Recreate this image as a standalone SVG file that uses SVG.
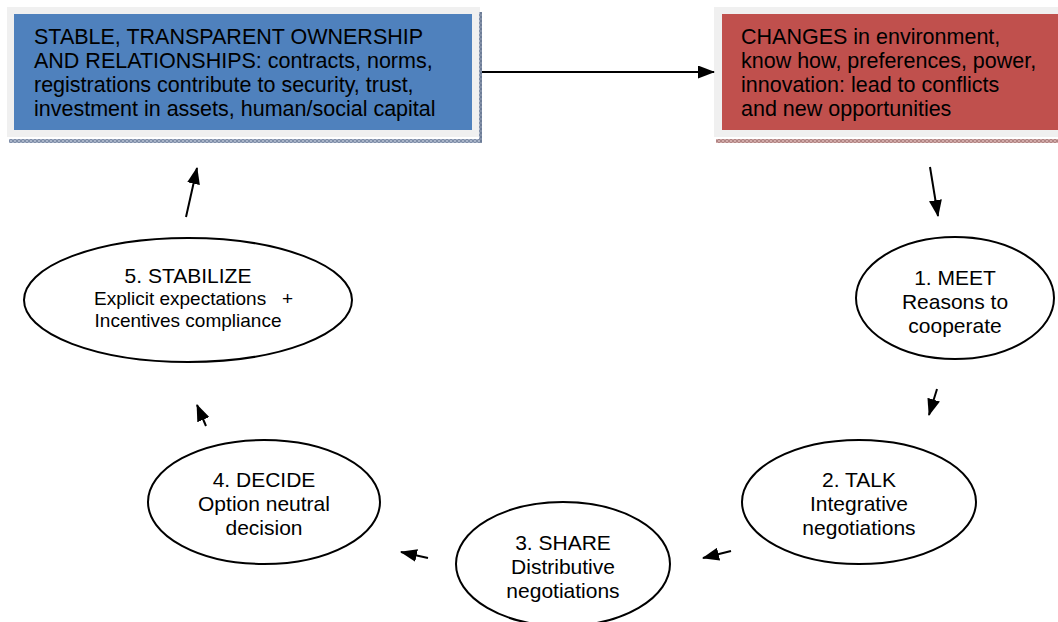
<svg xmlns="http://www.w3.org/2000/svg" width="1058" height="622" viewBox="0 0 1058 622">
<style>
.t{font-family:"Liberation Sans",Arial,sans-serif;font-size:21px;fill:#000}
.b{font-size:21.5px}
.s{font-size:19px}
.e{fill:#fff;stroke:#000;stroke-width:2}
.c{stroke:#000;stroke-width:2;fill:none}
</style>
<defs>
<pattern id="hb" width="4" height="4" patternUnits="userSpaceOnUse">
<rect width="4" height="4" fill="#a9b4c8"/><rect width="2" height="2" fill="#7f8ea8"/><rect x="2" y="2" width="2" height="2" fill="#7f8ea8"/>
</pattern>
<pattern id="hr" width="4" height="4" patternUnits="userSpaceOnUse">
<rect width="4" height="4" fill="#d2aaa9"/><rect width="2" height="2" fill="#b08584"/><rect x="2" y="2" width="2" height="2" fill="#b08584"/>
</pattern>
<marker id="ahs" markerWidth="17" markerHeight="13" refX="16" refY="6.5" orient="auto" markerUnits="userSpaceOnUse" viewBox="0 0 17 13">
<path d="M0,0 L17,6.5 L0,13 z" fill="#000"/>
</marker>
</defs>
<rect width="1058" height="622" fill="#fff"/>
<g id="box-stable">
<rect x="7" y="7" width="473" height="130" fill="#f0f0f0"/>
<rect x="14" y="14" width="458" height="116" fill="#4f81bd"/>
<rect x="9" y="139" width="472" height="4" fill="url(#hb)"/>
<rect x="479" y="12" width="3" height="131" fill="url(#hb)"/>
<line x1="481" y1="12" x2="481" y2="143" stroke="#5a6a85" stroke-width="1"/>
<text class="t b" x="34" y="44">STABLE, TRANSPARENT OWNERSHIP</text>
<text class="t b" x="34" y="68">AND RELATIONSHIPS: contracts, norms,</text>
<text class="t b" x="34" y="92">registrations contribute to security, trust,</text>
<text class="t b" x="34" y="116">investment in assets, human/social capital</text>
</g>
<g id="box-changes">
<rect x="714" y="7" width="344" height="130" fill="#f0f0f0"/>
<rect x="722" y="14" width="336" height="116" fill="#c0504d"/>
<rect x="716" y="139" width="342" height="4" fill="url(#hr)"/>
<text class="t b" x="741" y="44">CHANGES in environment,</text>
<text class="t b" x="741" y="68">know how, preferences, power,</text>
<text class="t b" x="741" y="92">innovation: lead to conflicts</text>
<text class="t b" x="741" y="116">and new opportunities</text>
</g>
<g id="node-meet">
<ellipse class="e" cx="955" cy="298" rx="99" ry="61"/>
<text class="t" text-anchor="middle" x="955" y="285">1. MEET</text>
<text class="t" text-anchor="middle" x="955" y="309">Reasons to</text>
<text class="t" text-anchor="middle" x="955" y="333">cooperate</text>
</g>
<g id="node-talk">
<ellipse class="e" cx="859" cy="502" rx="117" ry="62"/>
<text class="t" text-anchor="middle" x="859" y="487">2. TALK</text>
<text class="t" text-anchor="middle" x="859" y="511">Integrative</text>
<text class="t" text-anchor="middle" x="859" y="535">negotiations</text>
</g>
<g id="node-share">
<ellipse class="e" cx="563" cy="564" rx="107" ry="62"/>
<text class="t" text-anchor="middle" x="563" y="550">3. SHARE</text>
<text class="t" text-anchor="middle" x="563" y="574">Distributive</text>
<text class="t" text-anchor="middle" x="563" y="598">negotiations</text>
</g>
<g id="node-decide">
<ellipse class="e" cx="264" cy="502" rx="116" ry="62"/>
<text class="t" text-anchor="middle" x="264" y="487">4. DECIDE</text>
<text class="t" text-anchor="middle" x="264" y="511">Option neutral</text>
<text class="t" text-anchor="middle" x="264" y="535">decision</text>
</g>
<g id="node-stabilize">
<ellipse class="e" cx="188" cy="300" rx="164" ry="62"/>
<text class="t" text-anchor="middle" x="188" y="283">5. STABILIZE</text>
<text class="t s" x="94" y="305" xml:space="preserve">Explicit expectations   +</text>
<text class="t s" text-anchor="middle" x="188" y="327">Incentives compliance</text>
</g>
<g id="connectors">
<line class="c" x1="482" y1="72" x2="714" y2="72" marker-end="url(#ahs)"/>
<line class="c" x1="930" y1="167" x2="938" y2="216" marker-end="url(#ahs)"/>
<line class="c" x1="937" y1="389" x2="929" y2="415" marker-end="url(#ahs)"/>
<line class="c" x1="731" y1="551" x2="703" y2="558" marker-end="url(#ahs)"/>
<line class="c" x1="428" y1="558" x2="401" y2="552" marker-end="url(#ahs)"/>
<line class="c" x1="206" y1="426" x2="197" y2="405" marker-end="url(#ahs)"/>
<line class="c" x1="186" y1="217" x2="197" y2="168" marker-end="url(#ahs)"/>
</g>
</svg>
